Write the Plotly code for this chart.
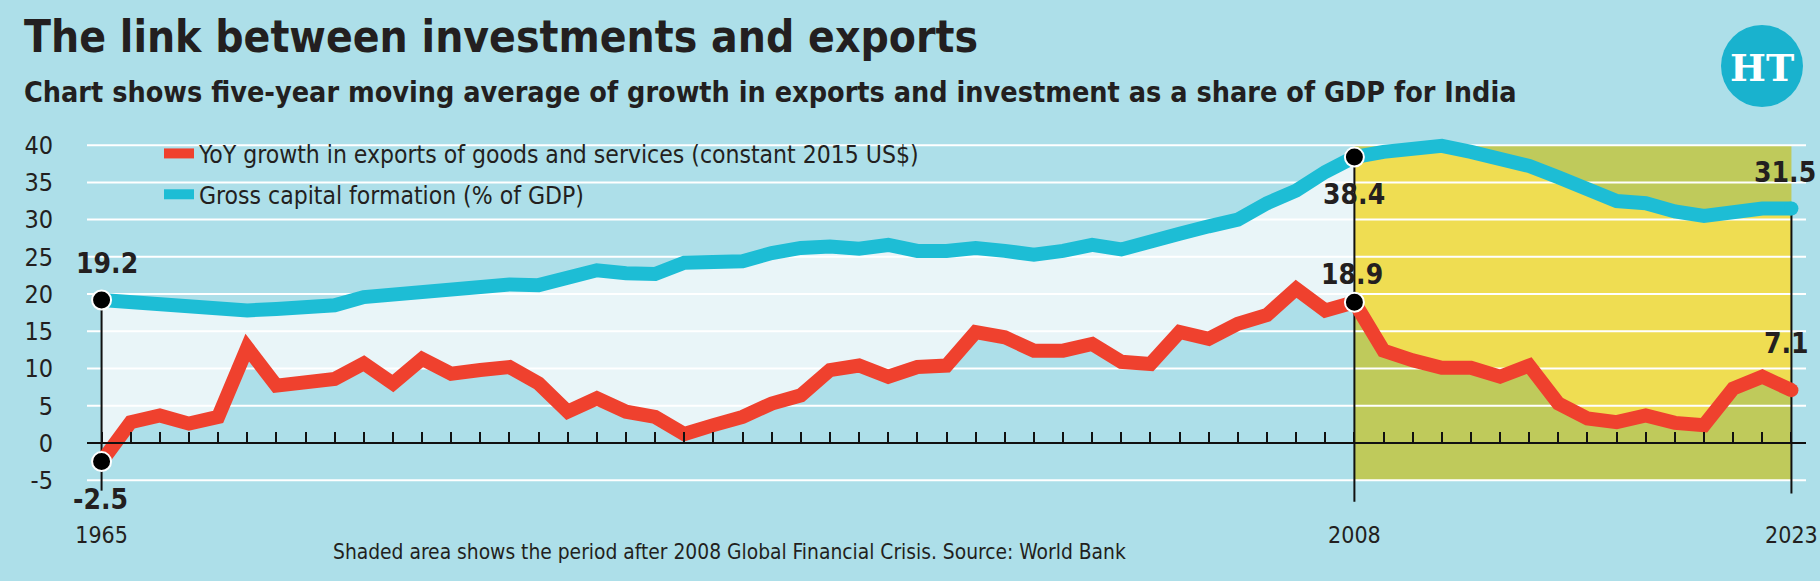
import plotly.graph_objects as go

# ---------------- data ----------------
years = list(range(1965, 2024))

exports_growth = [
    -2.5, 2.8, 3.7, 2.6, 3.5, 12.8, 7.7, 8.2, 8.6, 10.7, 8.0, 11.3, 9.3, 9.8, 10.2,
    8.0, 4.2, 6.0, 4.2, 3.5, 1.2, 2.4, 3.5, 5.3, 6.4, 9.8, 10.4, 8.9, 10.2, 10.4,
    14.9, 14.2, 12.4, 12.4, 13.3, 10.9, 10.6, 14.9, 14.0, 16.0, 17.2, 20.7, 17.8, 18.9,
    12.4, 11.1, 10.1, 10.1, 8.9, 10.4, 5.3, 3.3, 2.8, 3.7, 2.7, 2.4, 7.3, 8.9, 7.1,
]
capital_formation = [
    19.2, 18.9, 18.9, 18.6, 18.2, 17.8, 18.0, 18.3, 18.5, 19.6, 20.0, 20.0, 20.4, 21.0, 21.3,
    21.2, 22.3, 23.2, 22.8, 22.7, 24.2, 24.3, 24.4, 25.5, 26.2, 26.4, 26.1, 26.6, 25.8, 25.8,
    26.2, 25.8, 25.3, 25.8, 26.6, 26.0, 27.2, 28.1, 29.1, 30.0, 32.2, 33.9, 36.4, 38.4,
    39.1, 39.7, 39.9, 39.1, 38.2, 37.2, 35.7, 33.9, 32.5, 32.2, 31.1, 30.5, 31.0, 31.5, 31.5,
]

name_exports = "YoY growth in exports of goods and services (constant 2015 US$)"
name_gcf = "Gross capital formation (% of GDP)"

y_tick_values = [-5, 0, 5, 10, 15, 20, 25, 30, 35, 40]
y_tick_text = [str(v) for v in y_tick_values]
grid_values = [v for v in y_tick_values if v != 0]
label_years = [1965, 2008, 2023]
shade_start, shade_end = 2008, 2023
shade_bottom, shade_top = -5, 40

# ---------------- style ----------------
W, H = 1820, 581
ML, MR, MT, MB = 87, 14, 134, 71
PW, PH = W - ML - MR, H - MT - MB
X_MIN, X_MAX = 1964.5, 2023.5
Y_MIN, Y_MAX = -9, 41.5

BG = "#addfe9"
LIGHT = "#e9f5f8"
RED = "#ef412e"
BLUE = "#1dbdd5"
YELLOW = "#efdd52"
OLIVE = "#bfca5b"
INK = "#231f20"
LOGO = "#19b2ce"

COND = "Liberation Sans Narrow, DejaVu Sans Condensed, Roboto Condensed, Arial Narrow, sans-serif"


def px_x(px):
    return (px - ML) / PW


def px_y(py):
    return (H - MB - py) / PH


fig = go.Figure()

# split series at 2008
i08 = years.index(shade_start)
pre_x, post_x = years[: i08 + 1], years[i08:]

fills = [
    (pre_x, capital_formation[: i08 + 1], LIGHT),
    (pre_x, exports_growth[: i08 + 1], BG),
    (post_x, capital_formation[i08:], YELLOW),
    (post_x, exports_growth[i08:], OLIVE),
]
for fx, fy, fc in fills:
    fig.add_trace(go.Scatter(x=fx, y=fy, mode="lines", fill="tozeroy", fillcolor=fc,
                             line=dict(width=0, color=fc), hoverinfo="skip", showlegend=False))

# gridlines drawn above the fills
for v in grid_values:
    fig.add_trace(go.Scatter(x=[X_MIN, X_MAX], y=[v, v], mode="lines",
                             line=dict(color="white", width=2), hoverinfo="skip", showlegend=False))

# vertical reference lines
vlines = [(1965, capital_formation[0], -6.4), (2008, capital_formation[i08], -7.9),
          (2023, capital_formation[-1], -6.8)]
for vx, vtop, vbot in vlines:
    fig.add_trace(go.Scatter(x=[vx, vx], y=[vtop, vbot], mode="lines",
                             line=dict(color="#111111", width=2), hoverinfo="skip", showlegend=False))

# main lines
fig.add_trace(go.Scatter(x=years, y=exports_growth, mode="lines", name=name_exports,
                         legendgroup="exp", line=dict(color=RED, width=14)))
fig.add_trace(go.Scatter(x=years, y=capital_formation, mode="lines", name=name_gcf,
                         legendgroup="gcf", line=dict(color=BLUE, width=14)))

# round end caps at the last point
fig.add_trace(go.Scatter(x=[years[-1], years[-1]], y=[exports_growth[-1], capital_formation[-1]],
                         mode="markers", marker=dict(color=[RED, BLUE], size=14),
                         hoverinfo="skip", showlegend=False))

# black dots
dot_x = [1965, 1965, 2008, 2008]
dot_y = [capital_formation[0], exports_growth[0], capital_formation[i08], exports_growth[i08]]
fig.add_trace(go.Scatter(x=dot_x, y=dot_y, mode="markers",
                         marker=dict(color="black", size=19, line=dict(color="white", width=2)),
                         hoverinfo="skip", showlegend=False))

# shaded rectangle (after 2008)
fig.add_shape(type="rect", xref="x", yref="y", x0=shade_start, x1=shade_end,
              y0=shade_bottom, y1=shade_top, fillcolor=OLIVE, line=dict(width=0), layer="below")

# value labels
value_labels = [
    (1965, capital_formation[0], 5, 37),
    (1965, exports_growth[0], -1, -38),
    (2008, capital_formation[i08], 0, -37),
    (2008, exports_growth[i08], -2, 28),
    (2023, capital_formation[-1], -6, 36),
    (2023, exports_growth[-1], -5, 47),
]
for lx, lv, xs, ys in value_labels:
    fig.add_annotation(x=lx, y=lv, xref="x", yref="y", text=f"<b>{lv:.1f}</b>", showarrow=False,
                       xshift=xs, yshift=ys, font=dict(family=COND, size=28, color=INK))

# title, subtitle, footnote
fig.add_annotation(xref="paper", yref="paper", x=px_x(22), y=px_y(37), xanchor="left", yanchor="middle",
                   text="<b>The link between investments and exports</b>", showarrow=False,
                   font=dict(family=COND, size=44, color=INK))
fig.add_annotation(xref="paper", yref="paper", x=px_x(22), y=px_y(92), xanchor="left", yanchor="middle",
                   text="<b>Chart shows five-year moving average of growth in exports and investment as a share of GDP for India</b>",
                   showarrow=False, font=dict(family=COND, size=28.5, color=INK))
fig.add_annotation(xref="paper", yref="paper", x=px_x(729), y=px_y(552), xanchor="center", yanchor="middle",
                   text="Shaded area shows the period after 2008 Global Financial Crisis. Source: World Bank",
                   showarrow=False, font=dict(family=COND, size=20.8, color=INK))

# HT logo
fig.add_shape(type="circle", xref="paper", yref="paper", xsizemode="pixel", ysizemode="pixel",
              xanchor=px_x(1762), yanchor=px_y(66), x0=-41, x1=41, y0=-41, y1=41,
              fillcolor=LOGO, line=dict(width=0), layer="above")
fig.add_annotation(xref="paper", yref="paper", x=px_x(1762), y=px_y(67), xanchor="center", yanchor="middle",
                   text="<b>HT</b>", showarrow=False,
                   font=dict(family="DejaVu Serif, Liberation Serif, serif", size=38, color="white"))

pos0 = (0 - Y_MIN) / (Y_MAX - Y_MIN)

fig.update_layout(
    width=W, height=H,
    margin=dict(l=ML, r=MR, t=MT, b=MB, autoexpand=False),
    paper_bgcolor=BG, plot_bgcolor=BG,
    font=dict(family=COND, color=INK),
    showlegend=True,
    legend=dict(x=px_x(159), y=px_y(131), xanchor="left", yanchor="top",
                bgcolor="rgba(0,0,0,0)", font=dict(family=COND, size=24.5, color=INK),
                tracegroupgap=6, itemwidth=30),
    xaxis=dict(range=[X_MIN, X_MAX], anchor="free", position=pos0,
               showline=True, linecolor="#111111", linewidth=2,
               ticks="inside", ticklen=10, tickwidth=2, tickcolor="#111111",
               tickvals=years, ticktext=[str(y) if y in label_years else "" for y in years],
               ticklabelstandoff=71, tickfont=dict(family=COND, size=23, color=INK),
               automargin=False, showgrid=False, zeroline=False, fixedrange=True),
    yaxis=dict(range=[Y_MIN, Y_MAX], tickvals=y_tick_values, ticktext=y_tick_text,
               showgrid=False, zeroline=False, automargin=False,
               ticks="", ticklabelstandoff=33, tickfont=dict(family=COND, size=25, color=INK),
               fixedrange=True),
)

fig.write_html("out.html")
